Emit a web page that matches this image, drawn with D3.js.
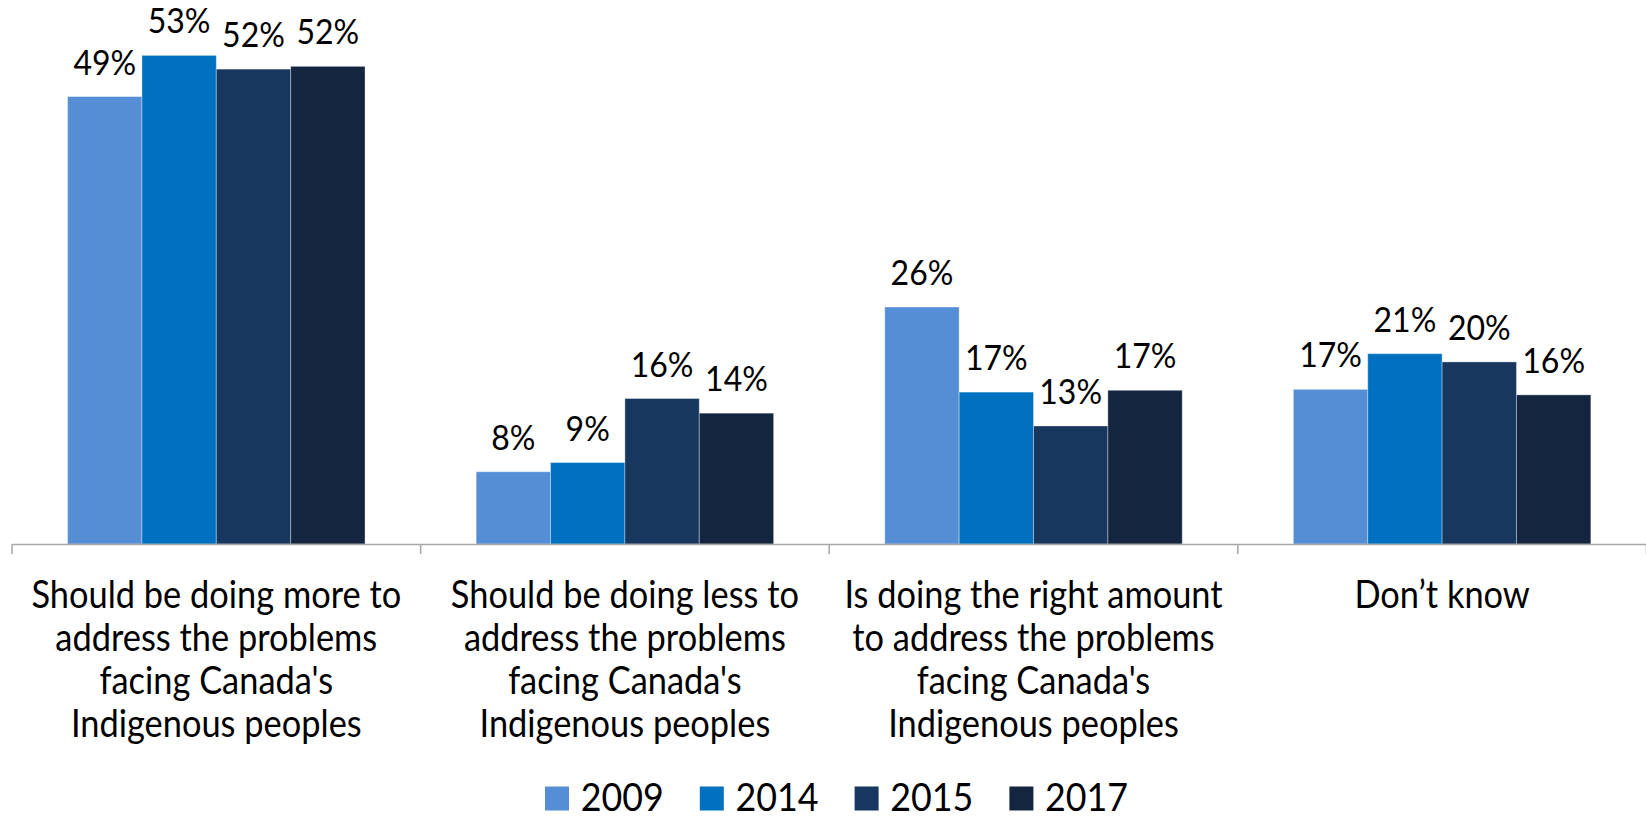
<!DOCTYPE html>
<html>
<head>
<meta charset="utf-8">
<script src="https://cdn.jsdelivr.net/npm/d3@7/dist/d3.min.js"></script>
<style>
  html, body { margin: 0; padding: 0; background: #ffffff; }
  svg { display: block; font-family: Lato, "Open Sans", sans-serif; }
</style>
</head>
<body>
<svg id="chart" width="1646" height="819"></svg>
<script>
// ---- data ----
const categories = [
  "Should be doing more to address the problems facing Canada's Indigenous peoples",
  "Should be doing less to address the problems facing Canada's Indigenous peoples",
  "Is doing the right amount to address the problems facing Canada's Indigenous peoples",
  "Don\u2019t know"
];
const categoryLines = [
  ["Should be doing more to", "address the problems", "facing Canada's", "Indigenous peoples"],
  ["Should be doing less to", "address the problems", "facing Canada's", "Indigenous peoples"],
  ["Is doing the right amount", "to address the problems", "facing Canada's", "Indigenous peoples"],
  ["Don\u2019t know"]
];
const years = ["2009", "2014", "2015", "2017"];
const values2009 = [48.9, 7.9, 25.9, 16.9];
const values2014 = [53.4, 8.9, 16.6, 20.8];
const values2015 = [51.9, 15.9, 12.9, 19.9];
const values2017 = [52.2, 14.3, 16.8, 16.3];
const colors = ["#558ED5", "#0070C0", "#17375E", "#13253F"];

const series = [values2009, values2014, values2015, values2017];

// ---- layout ----
const svg = d3.select("#chart");
const axisY = 544;
const x0 = d3.scaleBand().domain(categories).range([12, 1646.4]).padding(0);
const bw = x0.bandwidth();
const x1 = d3.scaleBand().domain(years).range([bw * 0.136, bw * 0.864]).padding(0);
const y = d3.scaleLinear().domain([0, 60]).range([axisY, axisY - 549]);
const color = d3.scaleOrdinal().domain(years).range(colors);
const fmt = v => d3.format(".0f")(v) + "%";

const rows = [];
categories.forEach((c, i) => {
  years.forEach((yr, j) => rows.push({ cat: c, year: yr, value: series[j][i] }));
});

// bars
svg.append("g").selectAll("rect").data(rows).join("rect")
  .attr("x", d => x0(d.cat) + x1(d.year))
  .attr("y", d => y(d.value))
  .attr("width", x1.bandwidth())
  .attr("height", d => y(0) - y(d.value))
  .attr("fill", d => color(d.year))
  .attr("stroke", "rgba(255,255,255,0.35)")
  .attr("stroke-width", 1);

// value labels
svg.append("g").selectAll("text").data(rows).join("text")
  .attr("transform", d => `translate(${x0(d.cat) + x1(d.year) + x1.bandwidth() / 2},${y(d.value) - 22}) scale(1,1.06)`)
  .attr("text-anchor", "middle")
  .attr("font-size", 32)
  .attr("fill", "#000")
  .text(d => fmt(d.value));

// axis
const axis = d3.axisBottom(x0).tickSize(0).tickFormat("");
const gAxis = svg.append("g").attr("transform", `translate(0,${axisY})`).call(axis);
gAxis.select(".domain").attr("stroke", "#A6A6A6").attr("stroke-width", 1.5);
gAxis.selectAll(".tick").remove();
const boundaries = categories.map(c => x0(c)).concat([x0.range()[1]]);
gAxis.selectAll("line.sep").data(boundaries).join("line")
  .attr("class", "sep")
  .attr("x1", d => d).attr("x2", d => d)
  .attr("y1", 0).attr("y2", 10)
  .attr("stroke", "#A6A6A6").attr("stroke-width", 1.5);

// category labels
const catG = svg.append("g");
categories.forEach((c, i) => {
  const cx = x0(c) + bw / 2;
  categoryLines[i].forEach((line, k) => {
    catG.append("text")
      .attr("transform", `translate(${cx},${608.3 + k * 43}) scale(1,1.11)`)
      .attr("text-anchor", "middle")
      .attr("font-size", 34.4)
      .attr("fill", "#000")
      .text(line);
  });
});

// legend
const legendStart = 545, legendStep = 154.8, legendBase = 810.5;
const lg = svg.append("g").selectAll("g").data(years).join("g")
  .attr("transform", (d, i) => `translate(${legendStart + i * legendStep},0)`);
lg.append("rect")
  .attr("x", 0).attr("y", legendBase - 24).attr("width", 24).attr("height", 24)
  .attr("fill", d => color(d));
lg.append("text")
  .attr("transform", `translate(35.7,${legendBase}) scale(1,1.07)`)
  .attr("font-size", 35.8)
  .attr("fill", "#000")
  .text(d => d);
</script>
</body>
</html>
